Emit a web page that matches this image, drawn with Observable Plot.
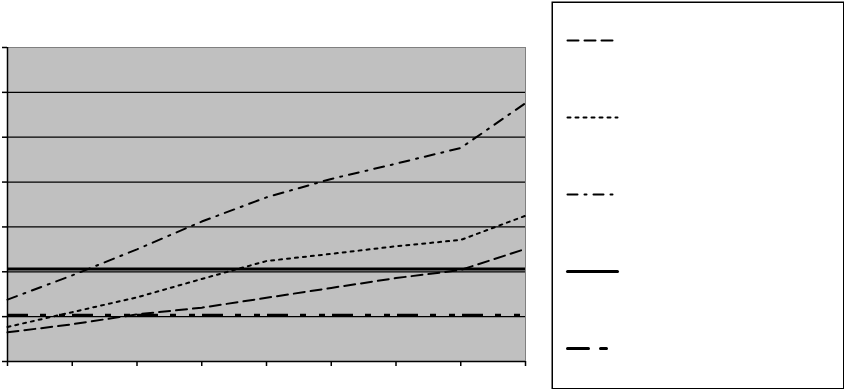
<!DOCTYPE html>
<html>
<head>
<meta charset="utf-8">
<script src="https://cdn.jsdelivr.net/npm/d3@7"></script>
<script src="https://cdn.jsdelivr.net/npm/@observablehq/plot@0.6"></script>
<style>
  html, body { margin: 0; padding: 0; background: #fff; }
  #wrap { position: relative; width: 848px; height: 389px; }
  #wrap > svg, #wrap > div { position: absolute; }
</style>
</head>
<body>
<div id="wrap"></div>
<script>
// Category positions (9 points, tick at each)
const categories = [0, 1, 2, 3, 4, 5, 6, 7, 8];
// Series values (unitless; gridlines every 1 unit, 0..7)
const dashedValues   = [0.65, 0.83, 1.05, 1.20, 1.42, 1.64, 1.86, 2.04, 2.51];
const dottedValues   = [0.77, 1.10, 1.43, 1.84, 2.24, 2.40, 2.57, 2.71, 3.25];
const dashDotValues  = [1.38, 1.92, 2.50, 3.12, 3.66, 4.07, 4.41, 4.76, 5.76];
const solidLevel     = 2.06;
const thickLevel     = 1.03;
// Axis ticks
const yTicks = [0, 1, 2, 3, 4, 5, 6, 7];
const gridTicks = [1, 2, 3, 4, 5, 6];
// Legend series (no visible labels in the reference)
const legendSeries = ["s1", "s2", "s3", "s4", "s5"];

const styles = {
  s1: {stroke: "black", strokeWidth: 2, strokeDasharray: "11,6"},
  s2: {stroke: "black", strokeWidth: 2, strokeDasharray: "3,5"},
  s3: {stroke: "black", strokeWidth: 2, strokeDasharray: "10,7,2,7"},
  s4: {stroke: "black", strokeWidth: 3},
  s5: {stroke: "black", strokeWidth: 3, strokeDasharray: "21,12,6,13,6,7"}
};

const pts = (vals) => categories.map((c, i) => ({x: c, y: vals[i]}));

const main = Plot.plot({
  width: 848,
  height: 389,
  marginLeft: 7,
  marginRight: 323,
  marginTop: 47,
  marginBottom: 28,
  x: {domain: [0, 8], label: null},
  y: {domain: [0, 7], label: null},
  marks: [
    Plot.frame({fill: "#c0c0c0", stroke: "#808080"}),
    Plot.ruleY(gridTicks, {stroke: "black", strokeWidth: 1.2}),
    Plot.ruleY([0], {stroke: "black", strokeWidth: 1.5}),
    Plot.ruleX([0], {stroke: "black", strokeWidth: 1.5}),
    Plot.axisY({ticks: yTicks, tickSize: 5, tickFormat: () => "", label: null, stroke: "black", strokeOpacity: 1, strokeWidth: 1.5}),
    Plot.axisX({ticks: categories, tickSize: 5, tickFormat: () => "", label: null, stroke: "black", strokeOpacity: 1, strokeWidth: 1.5}),
    Plot.ruleY([solidLevel], {x1: 0, x2: 8, ...styles.s4}),
    Plot.ruleY([thickLevel], {x1: 0, x2: 8, ...styles.s5}),
    Plot.line(pts(dashedValues), {x: "x", y: "y", ...styles.s1}),
    Plot.line(pts(dottedValues), {x: "x", y: "y", ...styles.s2}),
    Plot.line(pts(dashDotValues), {x: "x", y: "y", ...styles.s3})
  ]
});
main.style.left = "0px";
main.style.top = "0px";
document.getElementById("wrap").appendChild(main);

const legendRows = legendSeries.flatMap(s => [{s, x: 0}, {s, x: 1}]);
const legend = Plot.plot({
  width: 293,
  height: 388,
  margin: 0,
  x: {domain: [0, 1], range: [16, 66], axis: null},
  y: {type: "point", domain: legendSeries, range: [38, 347], padding: 0, axis: null},
  marks: [
    Plot.frame({stroke: "black", strokeWidth: 1.5, inset: 0.75}),
    ...legendSeries.map(s =>
      Plot.line(legendRows.filter(d => d.s === s), {x: "x", y: "s", ...styles[s]})
    )
  ]
});
legend.style.left = "551px";
legend.style.top = "1px";
document.getElementById("wrap").appendChild(legend);
</script>
</body>
</html>
